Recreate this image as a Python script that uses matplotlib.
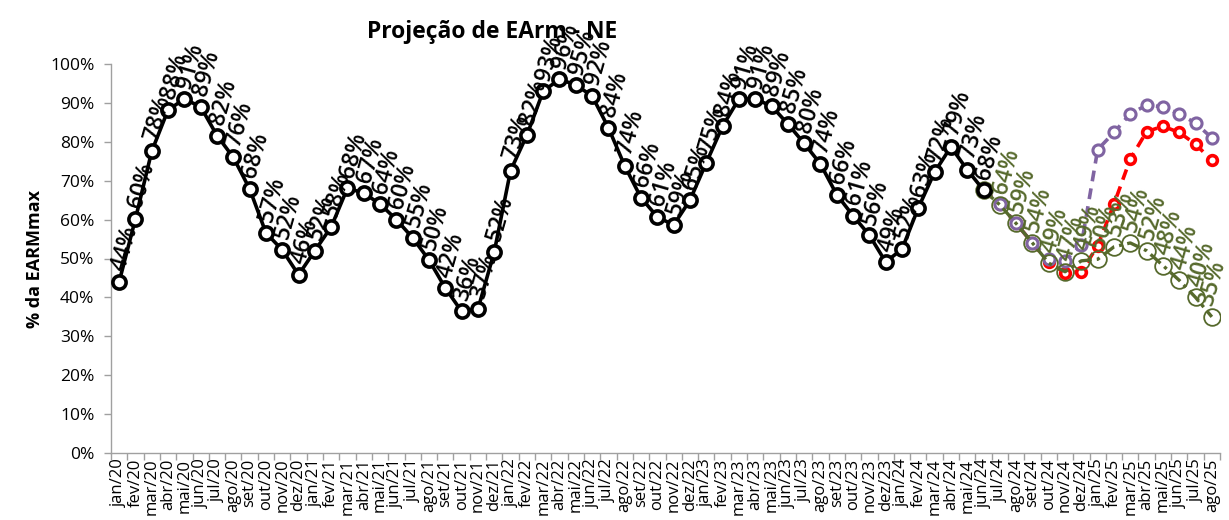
import matplotlib
matplotlib.use("Agg")
import matplotlib.pyplot as plt
import numpy as np

plt.rcParams['font.family'] = ['Open Sans', 'DejaVu Sans']

months = ["jan", "fev", "mar", "abr", "mai", "jun", "jul", "ago", "set", "out", "nov", "dez"]
categories = [f"{m}/{y}" for y in range(20, 26) for m in months][:68]

historico = [44.0, 60.2, 77.6, 88.2, 91.0, 89.0, 81.6, 76.0, 67.9, 56.6, 52.2, 45.8,
             52.0, 58.1, 68.1, 66.8, 64.0, 60.0, 55.3, 49.6, 42.4, 36.4, 37.0, 51.7,
             72.6, 81.7, 93.0, 96.1, 94.6, 91.8, 83.6, 73.8, 65.6, 60.7, 58.6, 65.0,
             74.6, 84.0, 91.0, 91.0, 89.2, 84.6, 79.6, 74.3, 66.4, 61.0, 56.0, 49.1,
             52.4, 63.0, 72.2, 78.7, 72.8, 67.6]

# projections from jun/24 to ago/25
proj_start = 53
proj_verde = [67.6, 63.8, 59.0, 54.0, 48.8, 46.6, 49.4, 49.8, 53.0, 54.0, 52.0, 48.2, 44.4, 40.0, 35.0]
proj_vermelho = [67.6, 64.0, 59.0, 54.0, 49.0, 46.3, 46.6, 53.3, 64.0, 75.6, 82.6, 84.0, 82.4, 79.4, 75.2]
proj_roxo = [67.6, 64.0, 59.0, 54.0, 50.0, 49.4, 53.5, 78.0, 82.4, 87.2, 89.4, 89.0, 87.2, 84.8, 81.0]

W, H = 1229, 520
fig = plt.figure(figsize=(W / 100, H / 100), dpi=100)
ax = fig.add_axes([111 / W, 1 - 453 / H, (1220 - 111) / W, (453 - 64) / H])

x_hist = np.arange(len(historico))
x_proj = np.arange(proj_start, proj_start + len(proj_verde))

green = "#56692C"
purple = "#8064A2"
red = "#FF0000"

ax.plot(x_proj, proj_vermelho, color=red, lw=2.6, dashes=(3, 2), marker="o",
        ms=7, mfc="white", mec=red, mew=2.6, zorder=3)
ax.plot(x_proj, proj_roxo, color=purple, lw=2.6, dashes=(3, 2), marker="o",
        ms=8, mfc="white", mec=purple, mew=2.2, zorder=4)
ax.plot(x_proj, proj_verde, color=green, lw=2.4, dashes=(4, 1.5, 1, 1.5), marker="o",
        ms=12, mfc="none", mec=green, mew=1.3, zorder=5)
ax.plot(x_hist, historico, color="black", lw=2.6, marker="o", ms=9.5,
        mfc="white", mec="black", mew=2.6, zorder=6)

lab_kw = dict(textcoords="offset points", rotation=74, rotation_mode="anchor",
              ha="left", va="center", fontsize=16.5, fontweight="semibold",
              annotation_clip=False)
for xi, v in zip(x_hist, historico):
    ax.annotate(f"{v:.0f}%", (xi, v), xytext=(0, 8), color="black", zorder=7, **lab_kw)
n_green = len(proj_verde) - 1
for k, (xi, v) in enumerate(zip(x_proj[1:], proj_verde[1:])):
    dx = -4 if k == n_green - 1 else 0
    ax.annotate(f"{v:.0f}%", (xi, v), xytext=(dx, 8), color=green, zorder=7, **lab_kw)

ax.set_xlim(-0.5, len(categories) - 0.5)
ax.set_ylim(0, 100)
ax.set_yticks(np.arange(0, 101, 10))
ax.set_yticklabels([f"{t}%" for t in range(0, 101, 10)], fontsize=12.5)
ax.set_xticks(np.arange(len(categories)))
ax.set_xticklabels(categories, rotation=90, fontsize=12)
ax.set_xticks(np.arange(-0.5, len(categories), 1), minor=True)
ax.tick_params(axis="x", which="major", length=0, pad=4)
ax.tick_params(axis="x", which="minor", length=5, color="#A0A0A0", width=1)
ax.tick_params(axis="y", length=5, color="#A0A0A0", width=1, pad=7)
for s in ["top", "right"]:
    ax.spines[s].set_visible(False)
for s in ["left", "bottom"]:
    ax.spines[s].set_color("#A0A0A0")
    ax.spines[s].set_linewidth(1)

ax.set_ylabel("% da EARMmax", fontsize=13, fontweight="bold", labelpad=4)

fig.text(492 / W, 1 - 32 / H, "Projeção de EArm - NE", ha="center", va="center",
         fontsize=16.5, fontweight="bold", zorder=0)

fig.savefig("out.png", dpi=100)
